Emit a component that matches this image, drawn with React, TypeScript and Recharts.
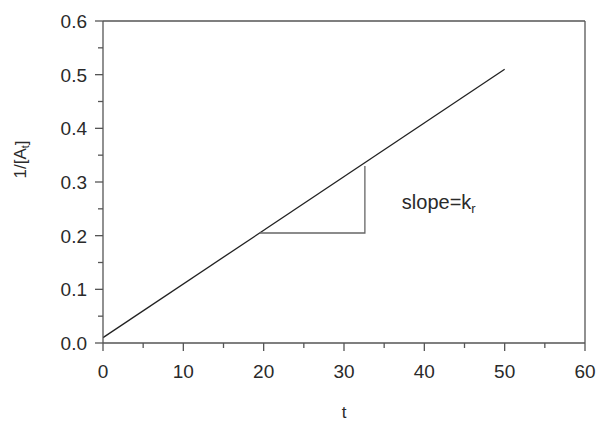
import React from 'react';
import { LineChart, Line, XAxis, YAxis, ReferenceLine, ReferenceDot } from 'recharts';

// Data
const lineData = [
  { t: 0, v: 0.01 },
  { t: 50, v: 0.51 },
];
const triangleData = [
  { t: 19.5, v: 0.205 },
  { t: 32.6, v: 0.205 },
  { t: 32.6, v: 0.33 },
];
const xTicks = [0, 5, 10, 15, 20, 25, 30, 35, 40, 45, 50, 55, 60];
const yTicks = [0, 0.05, 0.1, 0.15, 0.2, 0.25, 0.3, 0.35, 0.4, 0.45, 0.5, 0.55, 0.6];
const annotation = { t: 37.2, v: 0.262, text: 'slope=k', sub: 'r' };
const xLabel = 't';
const yLabel = '1/[A';
const ySub = 't';

const FONT = '"Liberation Sans", Arial, sans-serif';
const AXIS = '#555';
const TXT = '#2a2a2a';

const XTick = (props: any) => {
  const { x, y, index, payload } = props;
  const major = index % 2 === 0;
  return (
    <g>
      <line x1={x} x2={x} y1={y} y2={y + (major ? 8 : 5)} stroke={AXIS} strokeWidth={1.3} />
      {major && (
        <text x={x} y={y + 35} textAnchor="middle" fontFamily={FONT} fontSize={19} fill={TXT}>
          {String(payload.value)}
        </text>
      )}
    </g>
  );
};

const YTick = (props: any) => {
  const { x, y, index, payload } = props;
  const major = index % 2 === 0;
  return (
    <g>
      <line x1={x - (major ? 8 : 5)} x2={x} y1={y} y2={y} stroke={AXIS} strokeWidth={1.3} />
      {major && (
        <text x={x - 16} y={y + 7} textAnchor="end" fontFamily={FONT} fontSize={19} fill={TXT}>
          {Number(payload.value).toFixed(1)}
        </text>
      )}
    </g>
  );
};

const AnnotationLabel = (props: any) => {
  const { viewBox } = props;
  const x = viewBox.x + (viewBox.width || 0) / 2;
  const y = viewBox.y + (viewBox.height || 0) / 2;
  return (
    <text x={x} y={y + 7} fontFamily={FONT} fontSize={20} fill={TXT}>
      {annotation.text}
      <tspan fontSize={13} dy={4}>{annotation.sub}</tspan>
    </text>
  );
};

export default function App() {
  return (
    <div style={{ position: 'absolute', left: 0, top: 0, background: '#fff' }}>
      <LineChart
        width={599}
        height={424}
        margin={{ top: 21, right: 14, left: 3, bottom: 0 }}
      >
        <XAxis
          dataKey="t"
          type="number"
          domain={[0, 60]}
          ticks={xTicks}
          interval={0}
          allowDataOverflow
          tickSize={0}
          tickMargin={0}
          tick={<XTick />}
          axisLine={{ stroke: AXIS, strokeWidth: 1.3 }}
          tickLine={false}
          height={81}
          label={(p: any) => {
            const vb = p.viewBox;
            return (
              <text
                x={vb.x + vb.width / 2}
                y={418}
                textAnchor="middle"
                fontFamily={FONT}
                fontSize={17}
                fill={TXT}
              >
                {xLabel}
              </text>
            );
          }}
        />
        <YAxis
          dataKey="v"
          type="number"
          domain={[0, 0.6]}
          ticks={yTicks}
          interval={0}
          allowDataOverflow
          tickSize={0}
          tickMargin={0}
          tick={<YTick />}
          axisLine={{ stroke: AXIS, strokeWidth: 1.3 }}
          tickLine={false}
          width={100}
          label={(p: any) => {
            const vb = p.viewBox;
            const cx = 21;
            const cy = vb.y + vb.height * 0.43;
            return (
              <text
                x={cx}
                y={cy}
                transform={`rotate(-90 ${cx} ${cy})`}
                textAnchor="middle"
                fontFamily={FONT}
                fontSize={17}
                fill={TXT}
                dominantBaseline="central"
              >
                {yLabel}
                <tspan fontSize={11} dy={4}>{ySub}</tspan>
                <tspan dy={-4}>]</tspan>
              </text>
            );
          }}
        />
        <ReferenceLine y={0.6} stroke={AXIS} strokeWidth={1.3} />
        <ReferenceLine x={60} stroke={AXIS} strokeWidth={1.3} />
        <Line
          data={lineData}
          dataKey="v"
          stroke="#222"
          strokeWidth={1.3}
          dot={false}
          isAnimationActive={false}
        />
        <Line
          data={triangleData}
          dataKey="v"
          stroke="#666"
          strokeWidth={1.3}
          dot={false}
          isAnimationActive={false}
        />
        <ReferenceDot
          x={annotation.t}
          y={annotation.v}
          r={0}
          fill="none"
          stroke="none"
          label={<AnnotationLabel />}
        />
      </LineChart>
    </div>
  );
}
